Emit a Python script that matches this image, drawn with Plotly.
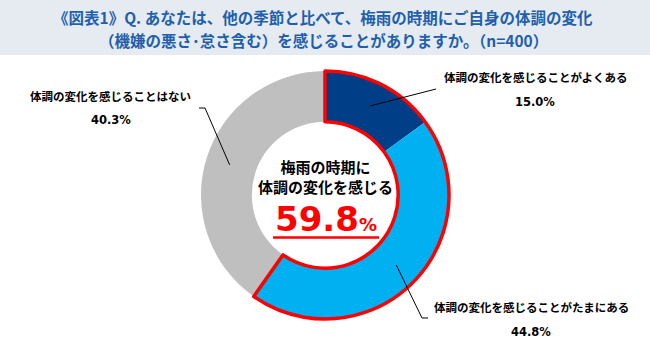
import math
import plotly.graph_objects as go

# ---- data ----
categories = ["体調の変化を感じることがよくある", "体調の変化を感じることがたまにある", "体調の変化を感じることはない"]
values = [15.0, 44.8, 40.3]
colors = ["#003F87", "#00B0F0", "#BFBFBF"]
value_labels = ["15.0%", "44.8%", "40.3%"]
total_feel = "59.8"

W, H = 650, 354
CX, CY, R_OUT = 325, 195, 124

def px(x):
    return x / W

def py(y):
    return 1 - y / H

dom_x = [px(CX - R_OUT), px(CX + R_OUT)]
dom_y = [py(CY + R_OUT), py(CY - R_OUT)]

fig = go.Figure()
fig.add_trace(go.Pie(
    labels=categories, values=values, sort=False, direction="clockwise", rotation=0,
    hole=0.59, marker=dict(colors=colors, line=dict(width=0)),
    textinfo="none", hoverinfo="label+percent", showlegend=False,
    domain=dict(x=dom_x, y=dom_y),
))
# red outline around the "感じる" group
fig.add_trace(go.Pie(
    labels=["感じる", "感じない"], values=[values[0] + values[1], values[2]],
    sort=False, direction="clockwise", rotation=0, hole=0.59,
    marker=dict(colors=["rgba(0,0,0,0)", "rgba(0,0,0,0)"],
                line=dict(color=["#FF0000", "rgba(0,0,0,0)"], width=3.5)),
    textinfo="none", hoverinfo="skip", showlegend=False,
    domain=dict(x=dom_x, y=dom_y),
))

shapes = []
annotations = []

def note(text, x, y, font):
    annotations.append(dict(text=text, x=px(x), y=py(y), xref="paper", yref="paper",
                            xanchor="center", yanchor="middle", showarrow=False, font=font))

# title band
shapes.append(dict(type="rect", xref="paper", yref="paper", x0=0, x1=1, y0=py(55), y1=1,
                   fillcolor="#E6EBF2", line=dict(width=0), layer="below"))
title_font = dict(family="Noto Sans CJK JP", size=15.5, color="#1F5FAD")
note("<b>《図表1》Q. あなたは、他の季節と比べて、梅雨の時期にご自身の体調の変化</b>", 323, 17, title_font)
note("<b>（機嫌の悪さ･怠さ含む）を感じることがありますか。（n=400）</b>", 323, 40, title_font)

# center text
cfont = dict(family="Noto Sans CJK JP", size=15, color="#000000")
note("<b>梅雨の時期に<br>体調の変化を感じる</b>", CX, 176.5, cfont)
note(f"<b>{total_feel}<span style='font-size:18px'>%</span></b>", CX + 1, 219,
     dict(family="DejaVu Sans", size=34, color="#FF0000"))
shapes.append(dict(type="line", xref="paper", yref="paper", x0=px(273), x1=px(379), y0=py(237.5), y1=py(237.5),
                   line=dict(color="#FF0000", width=2.5)))

# outside labels and leader lines
label_pos = [(535, 77, 102), (531, 307, 332), (111, 96, 120)]
elbows = [[(436, 89)], [(422, 318), (428, 318)], [(205, 108), (199, 108)]]
lfont = dict(family="Noto Sans CJK JP", size=11.5, color="#000000")
vfont = dict(family="DejaVu Sans", size=11.5, color="#000000")
cum = 0.0
tot = sum(values)
for i, v in enumerate(values):
    mid = (cum + v / 2) / tot * 2 * math.pi
    cum += v
    sx = CX + 100 * math.sin(mid)
    sy = CY - 100 * math.cos(mid)
    pts = [(sx, sy)] + elbows[i]
    for (x0, y0), (x1, y1) in zip(pts[:-1], pts[1:]):
        shapes.append(dict(type="line", xref="paper", yref="paper", x0=px(x0), y0=py(y0), x1=px(x1), y1=py(y1),
                           line=dict(color="#000000", width=1)))
    lx, ly1, ly2 = label_pos[i]
    note(f"<b>{categories[i]}</b>", lx, ly1, lfont)
    note(f"<b>{value_labels[i]}</b>", lx, ly2, vfont)

fig.update_layout(width=W, height=H, margin=dict(l=0, r=0, t=0, b=0),
                  paper_bgcolor="#FFFFFF", plot_bgcolor="#FFFFFF",
                  shapes=shapes, annotations=annotations)
fig.write_html("out.html")
